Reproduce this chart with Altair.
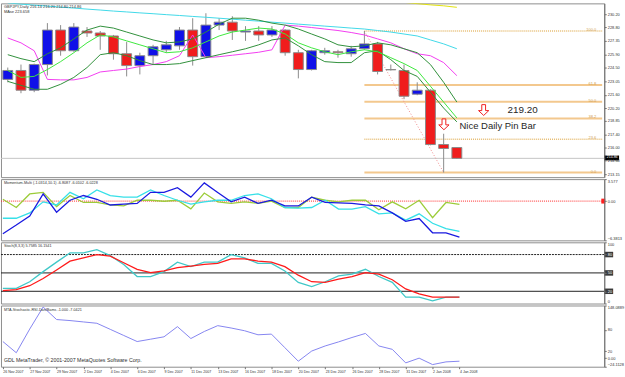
import altair as alt
import pandas as pd

W = 611
X_DOMAIN = [0.86, 0.86 + W / 13.6]

# ---------------- data ----------------
idx = list(range(1, 36))
date_labels = ["26 Nov 2007", "27 Nov 2007", "29 Nov 2007", "2 Dec 2007", "4 Dec 2007",
               "6 Dec 2007", "9 Dec 2007", "11 Dec 2007", "13 Dec 2007", "16 Dec 2007",
               "18 Dec 2007", "20 Dec 2007", "23 Dec 2007", "26 Dec 2007", "28 Dec 2007",
               "31 Dec 2007", "2 Jan 2008", "4 Jan 2008"]

open_ = [223.26, 224.21, 222.11, 224.84, 228.51, 226.31, 228.41, 228.20, 227.88, 225.99,
         224.73, 225.78, 226.41, 226.83, 228.51, 225.68, 229.04, 229.35, 228.30, 228.41,
         227.99, 228.51, 226.10, 224.31, 226.10, 226.20, 225.99, 226.52, 227.04, 224.31,
         224.21, 221.69, 222.11, 216.33, 216.01]
high_ = [224.52, 224.84, 224.94, 229.25, 229.04, 229.25, 228.83, 228.41, 227.99, 227.25,
         226.10, 226.94, 227.36, 228.83, 229.77, 230.30, 229.77, 229.98, 228.93, 228.93,
         228.93, 228.60, 226.41, 226.41, 226.62, 226.41, 226.83, 228.41, 227.25, 224.84,
         224.84, 222.95, 222.21, 217.48, 216.05]
low_ = [222.95, 221.79, 221.90, 223.68, 225.78, 226.20, 227.78, 226.41, 225.36, 223.58,
        223.79, 224.84, 226.10, 226.41, 224.73, 225.57, 228.51, 227.46, 227.36, 227.36,
        227.78, 225.78, 223.37, 224.21, 225.89, 225.57, 225.68, 226.41, 223.79, 224.21,
        221.16, 221.58, 216.25, 213.35, 214.80]
close_ = [224.21, 222.11, 224.84, 228.51, 226.31, 228.83, 228.20, 227.88, 225.99, 224.73,
          225.78, 226.73, 226.94, 228.51, 225.68, 229.04, 229.35, 228.41, 228.41, 227.99,
          228.51, 226.10, 224.31, 226.31, 226.31, 226.10, 226.52, 227.04, 224.10, 224.28,
          221.47, 222.11, 216.33, 215.91, 214.86]

ma_cyan = [231.40, 231.27, 231.16, 231.06, 230.95, 230.85, 230.74, 230.64, 230.53, 230.44,
           230.34, 230.25, 230.15, 230.06, 229.96, 229.87, 229.77, 229.67, 229.56, 229.46,
           229.35, 229.25, 229.14, 229.04, 228.93, 228.83, 228.72, 228.62, 228.46, 228.30,
           228.09, 227.88, 227.46, 227.04, 226.52]
ma_yellow_idx = [31, 32, 33, 34, 35]
ma_yellow = [231.46, 231.32, 231.19, 231.09, 230.93]
ma_magenta = [227.67, 227.15, 226.31, 223.26, 223.21, 223.21, 223.47, 224.05, 224.21, 224.36,
              224.63, 224.84, 225.15, 225.78, 227.99, 225.57, 225.68, 225.83, 225.99, 226.15,
              226.41, 229.04, 228.93, 228.78, 228.62, 228.46, 228.25, 227.99, 227.57, 227.15,
              226.52, 225.99, 225.78, 225.05, 223.66]
band_up = [225.89, 225.47, 225.15, 225.99, 226.62, 227.57, 228.51, 228.93, 228.72, 228.30,
           227.88, 227.46, 227.15, 227.25, 227.57, 228.30, 229.14, 229.77, 229.77, 229.56,
           229.25, 229.04, 228.62, 228.09, 227.57, 226.94, 226.73, 226.83, 227.15, 226.94,
           226.52, 226.10, 224.84, 222.95, 220.85]
band_mid = [224.21, 223.47, 223.58, 224.31, 225.15, 226.10, 227.15, 227.99, 227.78, 227.36,
            226.94, 226.52, 226.10, 226.20, 226.62, 227.25, 227.88, 228.30, 228.51, 228.72,
            228.62, 228.09, 227.15, 226.62, 226.20, 225.89, 226.20, 226.41, 226.20, 225.57,
            224.94, 224.21, 222.53, 220.85, 219.16]
band_lo = [223.05, 222.63, 222.21, 222.21, 222.74, 223.47, 224.52, 225.89, 226.10, 225.78,
           225.26, 224.84, 224.84, 224.94, 225.26, 225.57, 225.89, 226.20, 226.52, 226.94,
           227.46, 227.67, 226.83, 225.89, 225.15, 225.05, 225.05, 226.10, 226.31, 225.36,
           224.21, 223.58, 221.90, 220.21, 218.74]

fib_prices = [213.35, 216.90, 219.10, 220.88, 222.66, 228.41]
fib_names = ["0.0", "23.6", "38.2", "50.0", "61.8", "100.0"]
fib_dotted = [False, True, False, False, False, True]
fib_start = 28
fib_end = 46
trend_idx = [28, 34]
trend_price = [228.41, 213.35]

main_ticks = [213.15, 214.60, 216.00, 217.40, 218.85, 220.20, 221.60, 223.05, 224.50,
              225.90, 227.35, 228.80, 230.20]

mom_blue = [-5.30, -3.90, -2.43, 1.17, -1.81, 0.14, 0.91, 0.30, -0.63, -0.50,
            -0.38, 1.42, 1.42, 2.19, 0.65, 2.96, 1.40, -0.12, 0.65, -0.38,
            0.14, -0.79, -0.79, 0.65, -0.22, -0.27, -0.38, -0.63, -0.79, -1.92,
            -3.30, -2.84, -5.15, -5.15, -5.87]
mom_cyan = [-2.79, -2.79, -1.92, -0.12, -0.63, 1.42, 0.39, 1.83, 0.91, 0.65,
            0.65, 1.83, 0.91, 0.14, -0.48, -0.12, 0.14, 0.14, 0.91, 1.16,
            0.39, -1.04, -1.15, -1.04, 0.14, -1.30, -1.30, -0.89, -2.07, -1.92,
            -3.10, -2.07, -3.61, -4.48, -4.94]
mom_green = [0.29, -1.04, 1.16, 1.42, -0.89, 0.91, -0.22, -0.22, -0.63, -0.79,
             0.14, 0.14, -0.02, 0.14, -1.25, 1.32, -0.12, -0.38, -0.12, -0.38,
             -0.02, -1.04, -1.04, 0.65, 0.14, -0.12, 0.14, 0.14, -1.40, -0.12,
             -1.25, 0.14, -2.69, -0.22, -0.53]
mom_min, mom_max = -6.3813, 3.577

stoch_k = [24.9, 24.9, 35.6, 52.1, 67.6, 82.6, 82.6, 88.0, 78.3, 63.9,
           44.1, 44.1, 52.1, 67.6, 60.2, 67.6, 67.6, 79.9, 74.6, 65.5,
           65.5, 53.2, 34.5, 27.5, 35.6, 45.2, 47.9, 55.9, 44.1, 34.5,
           10.4, 10.4, 4.5, 10.4, 10.4]
stoch_d = [21.1, 22.7, 29.1, 40.9, 54.8, 69.3, 74.6, 80.0, 77.3, 66.6,
           55.9, 50.5, 53.2, 58.6, 61.2, 63.9, 65.5, 73.0, 73.0, 69.3,
           67.6, 60.2, 46.3, 35.6, 34.5, 39.8, 44.1, 50.5, 47.9, 38.8,
           23.8, 15.8, 10.4, 10.4, 10.4]
stoch_levels = [80, 50, 20]

mta = [46.7, 15.2, 81.9, 143.8, 108.6, 105.7, 101.9, 98.1, 81.0, 63.8,
       46.7, 53.3, 60.0, 88.6, 55.2, 75.0, 91.4, 84.8, 77.1, 65.7,
       67.6, 29.5, -8.6, 20.0, 34.3, 45.7, 58.1, 69.5, 34.3, 24.8,
       -13.3, 0.0, -18.1, -10.5, -8.6]
mta_min, mta_max = -24.1128, 148.0889
mta_levels = [80, 20]

header_main = ["GBPJPY,Daily  216.14 216.20 214.80 214.86", "MAse 223.658"]
header_mom = "Momentum-Multi (-1.0314,10.1) -6.8087 -6.0102 -6.0228"
header_sto = "Stoch(8,3,3) 5.7585 16.1541"
header_mta = "MTA-Stochastic-RSI-Dan/Bams -1.000 -7.0421"
copyright_txt = "GDL MetaTrader, \u00a9 2001-2007 MetaQuotes Software Corp."

# ---------------- helpers ----------------
FONT = "Liberation Sans"
xs = alt.Scale(domain=X_DOMAIN, nice=False, zero=False)


def yaxis(values, expr=None, fmt=None, flush=False, color="#333333"):
    kw = dict(orient="right", values=values, labelFontSize=4, labelColor=color,
              labelFont=FONT, tickSize=2, tickColor="#707070", domainColor="#707070",
              grid=False, title=None, labelPadding=1, labelOverlap=False,
              labelFlush=flush, zindex=1)
    if expr:
        kw["labelExpr"] = expr
    if fmt:
        kw["format"] = fmt
    return alt.Axis(**kw)


date_expr = "[" + ",".join("'%s'" % d for d in date_labels) + "][(datum.value-1)/2]"
x_axis = alt.Axis(orient="bottom", values=list(range(1, 36, 2)), labelExpr=date_expr,
                  labelAlign="left", labelFontSize=3.6, labelFont=FONT, labelColor="#333333",
                  tickSize=2, tickColor="#707070", domain=False, labelPadding=1,
                  labelOverlap=False, labelFlush=False, grid=False, title=None)


def X(field="i", axis=None):
    return alt.X(field, type="quantitative", scale=xs, axis=axis)


# ---------------- main price panel ----------------
ys_main = alt.Scale(domain=[212.86, 231.35], nice=False, zero=False)
ax_main = yaxis(main_ticks, fmt=".2f")


def YM(field):
    return alt.Y(field, type="quantitative", scale=ys_main, axis=ax_main)


cdf = pd.DataFrame({"i": idx, "o": open_, "h": high_, "l": low_, "c": close_})
cdf["dir"] = ["up" if c >= o else "down" for o, c in zip(open_, close_)]

bid = alt.Chart(pd.DataFrame({"p": [close_[-1]]})).mark_rule(
    color="#c4c4c4", strokeWidth=1).encode(y=YM("p"))

fdf = pd.DataFrame({"p": fib_prices, "name": fib_names, "dotted": fib_dotted,
                    "x0": [fib_start] * 6, "x1": [fib_end] * 6})
fib_solid = alt.Chart(fdf[~fdf.dotted]).mark_rule(
    color="#f3c88e", strokeWidth=2, clip=True).encode(x=X("x0"), x2="x1", y=YM("p"))
fib_dot = alt.Chart(fdf[fdf.dotted]).mark_rule(
    color="#d99a2b", strokeWidth=1, strokeDash=[1, 1], clip=True).encode(
    x=X("x0"), x2="x1", y=YM("p"))
fib_txt = alt.Chart(fdf.assign(lx=45.55)).mark_text(
    align="right", baseline="bottom", dy=1, fontSize=4, font=FONT, color="#d0a050").encode(
    x=X("lx"), y=YM("p"), text="name:N")

trend = alt.Chart(pd.DataFrame({"i": trend_idx, "p": trend_price})).mark_line(
    color="#f08a8a", strokeWidth=1, strokeDash=[1, 2]).encode(x=X(), y=YM("p"))

wicks = alt.Chart(cdf).mark_rule(color="#8a8a8a", strokeWidth=1, clip=True).encode(
    x=X(), y=YM("l"), y2="h")
bodies = alt.Chart(cdf).mark_bar(size=10, stroke="#8a8a8a", strokeWidth=1, clip=True).encode(
    x=X(), y=YM("o"), y2="c",
    color=alt.Color("dir:N", scale=alt.Scale(domain=["up", "down"],
                                             range=["#1010e8", "#f01c1c"]), legend=None))


def mline(values, color, width=1.0, ix=None):
    d = pd.DataFrame({"i": ix if ix else idx, "p": values})
    return alt.Chart(d).mark_line(color=color, strokeWidth=width, clip=True).encode(
        x=X(), y=YM("p"))


lines_main = [
    mline(ma_cyan, "#3fd8e8"),
    mline(ma_yellow, "#e2e20a", ix=ma_yellow_idx),
    mline(ma_magenta, "#f23cf0"),
    mline(band_up, "#2f8f3a"),
    mline(band_lo, "#2f8f3a"),
    mline(band_mid, "#3ce83c"),
]

ann = pd.DataFrame({"i": [39.98, 35.2], "p": [219.69, 217.96],
                    "t": ["219.20", "Nice Daily Pin Bar"]})
ann_big = alt.Chart(ann.iloc[[0]]).mark_text(
    align="center", baseline="alphabetic", fontSize=10, font=FONT, color="#262626").encode(
    x=X(), y=YM("p"), text="t:N")
ann_pin = alt.Chart(ann.iloc[[1]]).mark_text(
    align="left", baseline="alphabetic", fontSize=9.6, font=FONT, color="#262626").encode(
    x=X(), y=YM("p"), text="t:N")

arrow_path = "M-0.35,-1 L0.35,-1 L0.35,0.1 L0.95,0.1 L0,1 L-0.95,0.1 L-0.35,0.1 Z"
arrows = alt.Chart(pd.DataFrame({"i": [37.03, 34.02], "p": [220.0, 218.48]})).mark_point(
    shape=arrow_path, size=120, filled=True, fill="white", stroke="#f02020",
    strokeWidth=1, opacity=1).encode(x=X(), y=YM("p"))

price_box = alt.Chart(pd.DataFrame({"a": [close_[-1] + 0.30], "b": [close_[-1] - 0.22]})).mark_rect(
    color="black").encode(x=alt.value(611), x2=alt.value(626), y=YM("a"), y2="b")
price_txt = alt.Chart(pd.DataFrame({"p": [close_[-1]], "t": ["%.2f" % close_[-1]]})).mark_text(
    align="left", baseline="middle", dy=-0.9, fontSize=3.6, font=FONT, color="white").encode(
    x=alt.value(613.5), y=YM("p"), text="t:N")

hdr = alt.Chart(pd.DataFrame({"t": header_main, "yy": [4, 9]})).mark_text(
    align="left", baseline="middle", fontSize=4, font=FONT, color="#303030").encode(
    x=alt.value(3), y=alt.Y("yy:Q", scale=None), text="t:N")

main = alt.layer(bid, fib_solid, fib_dot, fib_txt, trend, wicks, bodies, *lines_main,
                 arrows, ann_big, ann_pin, price_box, price_txt, hdr).properties(
    width=W, height=176)

# ---------------- momentum panel ----------------
ys_mom = alt.Scale(domain=[mom_min, mom_max], nice=False, zero=False)
ax_mom = yaxis([mom_max, 0, mom_min],
               expr="datum.value==0 ? '0.00' : format(datum.value, '') ", flush=True)


def YMo(field):
    return alt.Y(field, type="quantitative", scale=ys_mom, axis=ax_mom)


mom_zero = alt.Chart(pd.DataFrame({"v": [0]})).mark_rule(
    color="#ff2a2a", strokeDash=[1, 1], strokeWidth=1).encode(y=YMo("v"))


def momline(values, color):
    return alt.Chart(pd.DataFrame({"i": idx, "v": values})).mark_line(
        color=color, strokeWidth=1.3, clip=True).encode(x=X(), y=YMo("v"))


mom_box = alt.Chart(pd.DataFrame({"a": [0.4], "b": [-0.4]})).mark_rect(color="#ff2020").encode(
    x=alt.value(608), x2=alt.value(612), y=YMo("a"), y2="b")
mom_hdr = alt.Chart(pd.DataFrame({"t": [header_mom]})).mark_text(
    align="left", baseline="middle", fontSize=3.8, font=FONT, color="#303030").encode(
    x=alt.value(3), y=alt.value(4), text="t:N")

mom = alt.layer(mom_zero, momline(mom_green, "#9ccc3a"), momline(mom_cyan, "#36e0e8"),
                momline(mom_blue, "#1a1ae0"), mom_box, mom_hdr).properties(width=W, height=62)

# ---------------- stochastic panel ----------------
ys_sto = alt.Scale(domain=[0, 100], nice=False, zero=False)
ax_sto = alt.Axis(orient="right", values=[100, 80, 50, 20, 0], labelFontSize=4,
                  labelColor={"condition": {"test": "datum.value==80 || datum.value==50 || datum.value==20",
                                            "value": "white"}, "value": "#333333"},
                  labelFont=FONT, tickSize=2, tickColor="#707070", domainColor="#707070",
                  grid=False, title=None, labelPadding=1, labelOverlap=False,
                  labelFlush=True, zindex=1)


def YS(field):
    return alt.Y(field, type="quantitative", scale=ys_sto, axis=ax_sto)


sdf_lv = pd.DataFrame({"v": stoch_levels, "dash": [True, False, False]})
sto_lv_dash = alt.Chart(sdf_lv[sdf_lv.dash]).mark_rule(
    color="#202020", strokeWidth=1, strokeDash=[2, 1]).encode(y=YS("v"))
sto_lv = alt.Chart(sdf_lv[~sdf_lv.dash]).mark_rule(color="#202020", strokeWidth=1).encode(y=YS("v"))
sto_box = alt.Chart(pd.DataFrame({"a": [v + 4.5 for v in stoch_levels],
                                  "b": [v - 4.5 for v in stoch_levels]})).mark_rect(
    color="#3a3a3a").encode(x=alt.value(611), x2=alt.value(620), y=YS("a"), y2="b")


def stoline(values, color):
    return alt.Chart(pd.DataFrame({"i": idx, "v": values})).mark_line(
        color=color, strokeWidth=1.3, clip=True).encode(x=X(), y=YS("v"))


sto_hdr = alt.Chart(pd.DataFrame({"t": [header_sto]})).mark_text(
    align="left", baseline="middle", fontSize=3.8, font=FONT, color="#303030").encode(
    x=alt.value(3), y=alt.value(4), text="t:N")

sto = alt.layer(sto_lv_dash, sto_lv, stoline(stoch_k, "#40c8c8"), stoline(stoch_d, "#ff1a1a"),
                sto_box, sto_hdr).properties(width=W, height=62)

# ---------------- MTA panel ----------------
ys_mta = alt.Scale(domain=[mta_min, mta_max], nice=False, zero=False)
ax_mta = yaxis([mta_max, 80, 20, 0, mta_min],
               expr="datum.value==0 ? '0.00' : format(datum.value, '')", flush=True)


def YT(field):
    return alt.Y(field, type="quantitative", scale=ys_mta, axis=ax_mta)


mta_lv = alt.Chart(pd.DataFrame({"v": mta_levels})).mark_rule(
    color="#ea7f8a", strokeWidth=1, strokeDash=[1, 1]).encode(x=X(axis=x_axis), y=YT("v"))
mta_line = alt.Chart(pd.DataFrame({"i": idx, "v": mta})).mark_line(
    color="#8484f0", strokeWidth=1, clip=True).encode(x=X(axis=x_axis), y=YT("v"))
mta_hdr = alt.Chart(pd.DataFrame({"t": [header_mta]})).mark_text(
    align="left", baseline="middle", fontSize=3.8, font=FONT, color="#303030").encode(
    x=alt.value(3), y=alt.value(5), text="t:N")
copy_txt = alt.Chart(pd.DataFrame({"t": [copyright_txt]})).mark_text(
    align="left", baseline="middle", fontSize=5.3, font=FONT, color="#303030").encode(
    x=alt.value(3), y=alt.value(55), text="t:N")

mta_panel = alt.layer(mta_lv, mta_line, mta_hdr, copy_txt).properties(width=W, height=62)

chart = alt.vconcat(main, mom, sto, mta_panel, spacing=2, bounds="flush").properties(
    padding={"left": 0, "top": 0, "right": 0, "bottom": 0}
).configure(background="white").configure_view(stroke="#8c8c8c", strokeWidth=1)

chart.save("out.html", embed_options={"renderer": "svg", "actions": False})
